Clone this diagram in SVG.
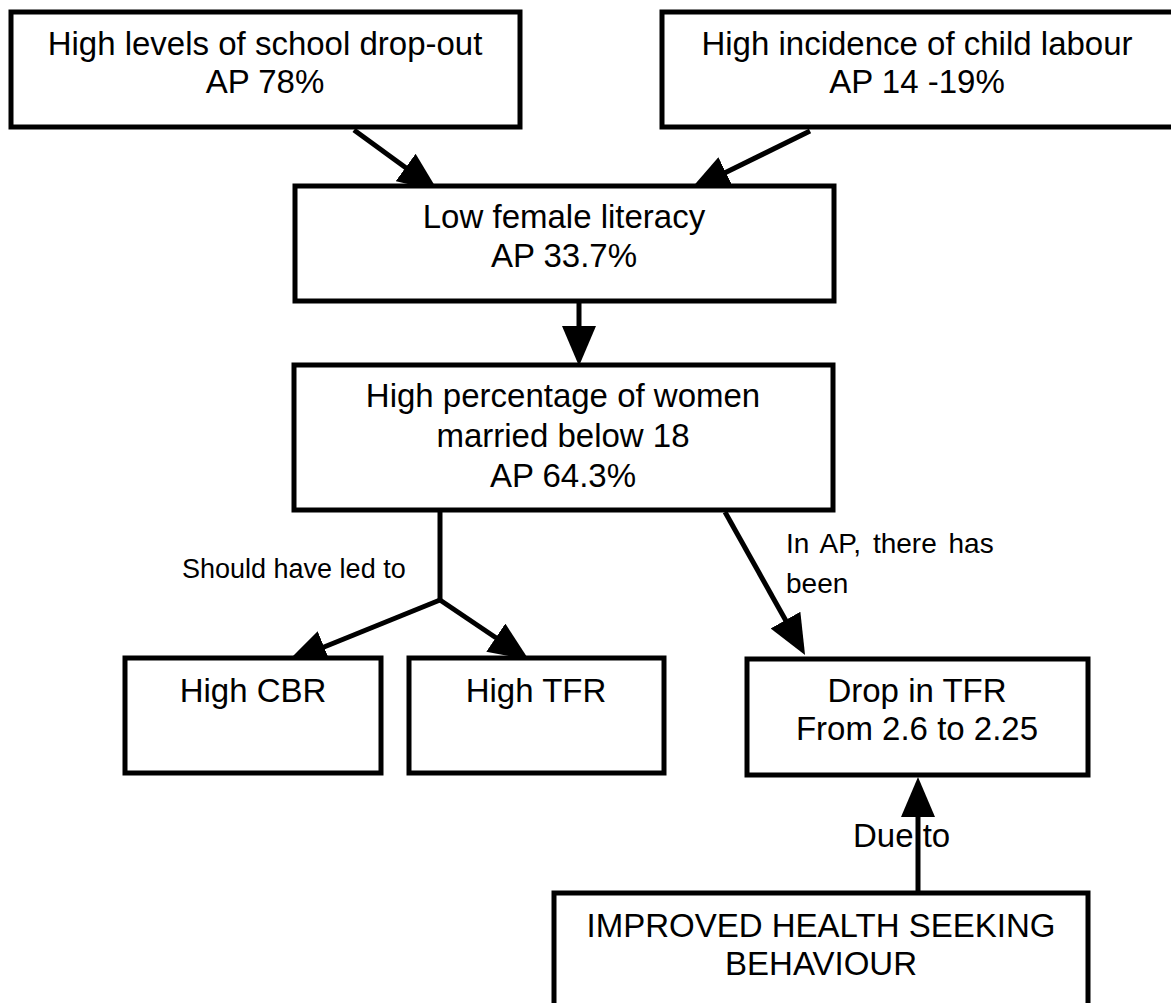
<svg xmlns="http://www.w3.org/2000/svg" width="1171" height="1003" viewBox="0 0 1171 1003">
<style>
.box{fill:#fff;stroke:#000;stroke-width:5}
.t{font-family:"Liberation Sans",Arial,sans-serif;font-size:33px;fill:#000;text-anchor:middle}
.lbl{font-family:"Liberation Sans",Arial,sans-serif;fill:#000}
.c{stroke:#000;stroke-width:5;fill:none}
</style>
<defs>
<marker id="ah" markerUnits="userSpaceOnUse" markerWidth="40" markerHeight="34" refX="10" refY="17" orient="auto" viewBox="0 0 40 34">
<path d="M0,0 L40,17 L0,34 z" fill="#000"/>
</marker>
</defs>
<rect width="1171" height="1003" fill="#fff"/>
<g id="connectors">
<line class="c" x1="354" y1="130" x2="413.7" y2="173.4" marker-end="url(#ah)"/>
<line class="c" x1="810" y1="131" x2="716.9" y2="176.8" marker-end="url(#ah)"/>
<line class="c" x1="579" y1="303" x2="579" y2="336" marker-end="url(#ah)"/>
<line class="c" x1="440" y1="512" x2="440" y2="601"/>
<line class="c" x1="440" y1="600" x2="314.8" y2="650.7" marker-end="url(#ah)"/>
<line class="c" x1="440" y1="600" x2="504.1" y2="643.2" marker-end="url(#ah)"/>
<line class="c" x1="725" y1="512" x2="790.4" y2="628.8" marker-end="url(#ah)"/>
<line class="c" x1="918" y1="893" x2="918" y2="807" marker-end="url(#ah)"/>
<text class="lbl" x="182" y="578" font-size="27">Should have led to</text>
<text class="lbl" x="786" y="553" font-size="28" word-spacing="4">In AP, there has</text>
<text class="lbl" x="786" y="593" font-size="28">been</text>
<text class="lbl" x="853" y="847" font-size="33">Due to</text>
</g>
<g id="n1">
<rect class="box" x="11" y="12" width="509" height="115"/>
<text class="t" x="265" y="55">High levels of school drop-out</text>
<text class="t" x="265" y="93">AP 78%</text>
</g>
<g id="n2">
<rect class="box" x="662" y="12" width="530" height="115"/>
<text class="t" x="917" y="55">High incidence of child labour</text>
<text class="t" x="917" y="93">AP 14 -19%</text>
</g>
<g id="n3">
<rect class="box" x="295" y="186" width="539" height="115"/>
<text class="t" x="564" y="228">Low female literacy</text>
<text class="t" x="564" y="267">AP 33.7%</text>
</g>
<g id="n4">
<rect class="box" x="294" y="365" width="539" height="145"/>
<text class="t" x="563" y="407">High percentage of women</text>
<text class="t" x="563" y="447">married below 18</text>
<text class="t" x="563" y="487">AP 64.3%</text>
</g>
<g id="n5">
<rect class="box" x="125" y="658" width="256" height="115"/>
<text class="t" x="253" y="702">High CBR</text>
</g>
<g id="n6">
<rect class="box" x="409" y="658" width="255" height="115"/>
<text class="t" x="536" y="702">High TFR</text>
</g>
<g id="n7">
<rect class="box" x="747" y="659" width="341" height="116"/>
<text class="t" x="917" y="702">Drop in TFR</text>
<text class="t" x="917" y="740">From 2.6 to 2.25</text>
</g>
<g id="n8">
<rect class="box" x="554" y="893" width="534" height="130"/>
<text class="t" x="821" y="937">IMPROVED HEALTH SEEKING</text>
<text class="t" x="821" y="975">BEHAVIOUR</text>
</g>
</svg>
